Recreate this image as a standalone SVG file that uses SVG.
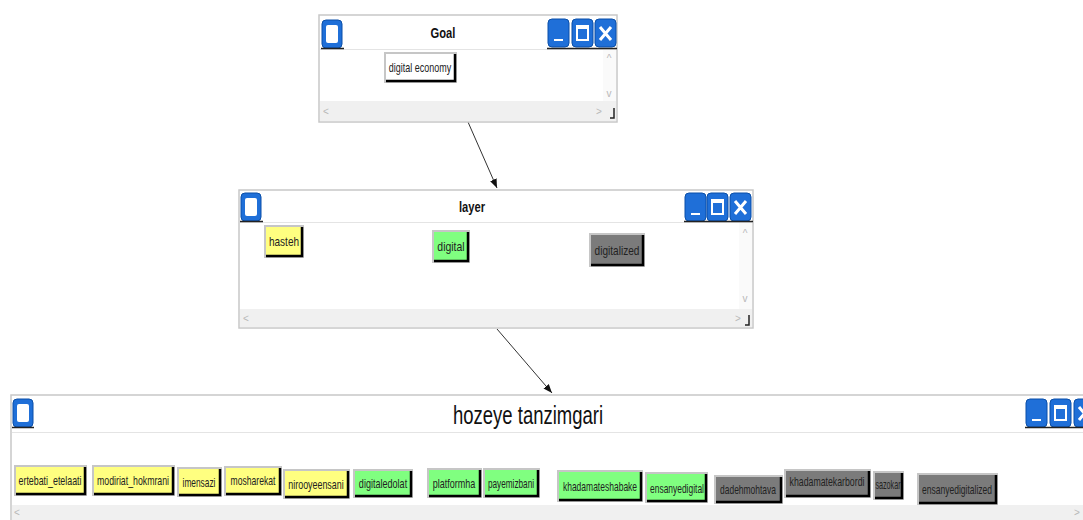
<svg xmlns="http://www.w3.org/2000/svg" width="1083" height="520" viewBox="0 0 1083 520">
<defs>
<style>
.win{fill:#fff;stroke:#c8c8c8;stroke-width:1.5}
.sep{stroke:#e4e4e4;stroke-width:1}
.scroll{fill:#f0f0f0}
.ico{fill:#1f6fd8;stroke:#0b4fa8;stroke-width:1}
.icoin{fill:#fff}
.shadowline{stroke:#222;stroke-width:1.5}
.btnb{fill:#c6c6c6}
.sh{fill:none;stroke:#000;stroke-width:2.5}
.lbl{font-family:"Liberation Sans",Arial,sans-serif;font-size:13px;fill:#222;text-anchor:middle}
.title{font-family:"Liberation Sans",Arial,sans-serif;font-size:14px;font-weight:bold;fill:#111;text-anchor:middle}
.big{font-family:"Liberation Sans",Arial,sans-serif;font-size:25px;fill:#111;text-anchor:middle}
.sc{font-family:"Liberation Sans",Arial,sans-serif;font-size:10px;fill:#b8b8b8;text-anchor:middle}
.con{stroke:#333;stroke-width:1;fill:none}
.y{fill:#ffff80}.g{fill:#80ff80}.gr{fill:#7b7b7b}.w{fill:#fff}
</style>
<marker id="ah" markerWidth="10" markerHeight="10" refX="9" refY="5" orient="auto" markerUnits="userSpaceOnUse">
<path d="M0,1.5 L9,5 L0,8.5 Z" fill="#111"/>
</marker>
<g id="leftico">
<rect x="0" y="0" width="20" height="28" rx="4" class="ico"/>
<rect x="4" y="5" width="12" height="18" rx="2" class="icoin"/>
</g>
<g id="minb">
<rect x="0" y="0" width="21" height="28" rx="4" class="ico"/>
<rect x="6" y="20" width="9" height="2" fill="#fff"/>
</g>
<g id="maxb">
<rect x="0" y="0" width="21" height="28" rx="4" class="ico"/>
<rect x="5" y="7" width="11" height="14" fill="none" stroke="#fff" stroke-width="2"/>
<rect x="5" y="7" width="11" height="3" fill="#fff"/>
</g>
<g id="clsb">
<rect x="0" y="0" width="21" height="28" rx="4" class="ico"/>
<path d="M5,8 L16,21 M16,8 L5,21" stroke="#fff" stroke-width="3"/>
</g>
</defs>

<g id="connectors">
<line x1="468" y1="122" x2="497" y2="188" class="con" marker-end="url(#ah)"/>
<line x1="497" y1="329" x2="552" y2="393" class="con" marker-end="url(#ah)"/>
</g>

<g id="goal">
<rect x="319" y="15" width="298" height="107" class="win"/>
<line x1="320" y1="49.5" x2="616" y2="49.5" class="sep"/>
<rect x="320" y="101" width="296" height="20" class="scroll"/>
<rect x="603" y="50" width="13" height="51" fill="#fafafa"/>
<text x="609" y="62" class="sc">^</text>
<text x="609" y="97" class="sc">v</text>
<text x="326" y="115" class="sc">&lt;</text>
<text x="599" y="115" class="sc">&gt;</text>
<path d="M610,118 L614,118 L614,108" class="shadowline" fill="none" stroke-width="1.2"/>
<use href="#leftico" x="322" y="20"/>
<line x1="321" y1="48.5" x2="344" y2="48.5" class="shadowline"/>
<use href="#minb" x="548" y="19"/>
<use href="#maxb" x="572" y="19"/>
<use href="#clsb" x="595" y="19"/>
<line x1="547" y1="48.5" x2="617" y2="48.5" class="shadowline"/>
<text class="title" transform="translate(443,38) scale(0.8,1)">Goal</text>
<g id="n-digital-economy">
<rect x="384" y="52" width="73" height="31" class="btnb"/>
<rect x="386" y="54" width="68" height="26" class="w"/>
<path d="M386,81 L455,81 L455,54" class="sh"/>
<text class="lbl" transform="translate(420,72) scale(0.7,1)" textLength="89" lengthAdjust="spacingAndGlyphs">digital economy</text>
</g>
</g>

<g id="layer">
<rect x="239" y="190" width="514" height="138" class="win"/>
<line x1="240" y1="222.5" x2="752" y2="222.5" class="sep"/>
<rect x="240" y="309" width="512" height="18" class="scroll"/>
<rect x="739" y="223" width="13" height="86" fill="#fafafa"/>
<text x="745" y="237" class="sc">^</text>
<text x="745" y="302" class="sc">v</text>
<text x="246" y="322" class="sc">&lt;</text>
<text x="738" y="322" class="sc">&gt;</text>
<path d="M745,325 L749,325 L749,315" class="shadowline" fill="none" stroke-width="1.2"/>
<use href="#leftico" x="241" y="193"/>
<line x1="240" y1="221.5" x2="263" y2="221.5" class="shadowline"/>
<use href="#minb" x="685" y="193"/>
<use href="#maxb" x="707" y="193"/>
<use href="#clsb" x="730" y="193"/>
<line x1="684" y1="221.5" x2="753" y2="221.5" class="shadowline"/>
<text class="title" transform="translate(472,212) scale(0.8,1)">layer</text>
<g id="n-hasteh">
<rect x="264" y="225" width="40" height="33" class="btnb"/>
<rect x="266" y="227" width="35" height="28" class="y"/>
<path d="M266,256 L302,256 L302,227" class="sh"/>
<text class="lbl" transform="translate(284,246) scale(0.7,1)" textLength="43" lengthAdjust="spacingAndGlyphs">hasteh</text>
</g>
<g id="n-digital">
<rect x="432" y="230" width="38" height="33" class="btnb"/>
<rect x="434" y="232" width="33" height="28" class="g"/>
<path d="M434,261 L468,261 L468,232" class="sh"/>
<text class="lbl" transform="translate(451,251) scale(0.7,1)" textLength="39" lengthAdjust="spacingAndGlyphs">digital</text>
</g>
<g id="n-digitalized">
<rect x="589" y="233" width="56" height="34" class="btnb"/>
<rect x="591" y="235" width="51" height="29" class="gr"/>
<path d="M591,265 L643,265 L643,235" class="sh"/>
<text class="lbl" transform="translate(617,255) scale(0.7,1)" textLength="64" lengthAdjust="spacingAndGlyphs">digitalized</text>
</g>
</g>

<g id="hozeye">
<rect x="11" y="395" width="1080" height="130" class="win"/>
<line x1="12" y1="432.5" x2="1083" y2="432.5" class="sep"/>
<rect x="12" y="505" width="1071" height="15" class="scroll"/>
<text x="17" y="516" class="sc">&lt;</text>
<text x="1077" y="516" class="sc">&gt;</text>
<use href="#leftico" x="13" y="399"/>
<line x1="12" y1="427.5" x2="34" y2="427.5" class="shadowline"/>
<use href="#minb" x="1026" y="399"/>
<use href="#maxb" x="1050" y="399"/>
<use href="#clsb" x="1074" y="399"/>
<line x1="1025" y1="427.5" x2="1083" y2="427.5" class="shadowline"/>
<text class="big" transform="translate(528,424) scale(0.75,1)" textLength="200" lengthAdjust="spacingAndGlyphs">hozeye tanzimgari</text>

<g id="n-ertebati">
<rect x="14" y="465" width="73" height="31" class="btnb"/>
<rect x="16" y="467" width="68" height="26" class="y"/>
<path d="M16,494 L85,494 L85,467" class="sh"/>
<text class="lbl" transform="translate(50,485) scale(0.7,1)" textLength="90" lengthAdjust="spacingAndGlyphs">ertebati_etelaati</text>
</g>
<g id="n-modiriat">
<rect x="92" y="465" width="83" height="31" class="btnb"/>
<rect x="94" y="467" width="78" height="26" class="y"/>
<path d="M94,494 L173,494 L173,467" class="sh"/>
<text class="lbl" transform="translate(133,485) scale(0.7,1)" textLength="103" lengthAdjust="spacingAndGlyphs">modiriat_hokmrani</text>
</g>
<g id="n-imensazi">
<rect x="177" y="467" width="45" height="30" class="btnb"/>
<rect x="179" y="469" width="40" height="25" class="y"/>
<path d="M179,495 L220,495 L220,469" class="sh"/>
<text class="lbl" transform="translate(199,487) scale(0.7,1)" textLength="47" lengthAdjust="spacingAndGlyphs">imensazi</text>
</g>
<g id="n-mosharekat">
<rect x="224" y="466" width="58" height="30" class="btnb"/>
<rect x="226" y="468" width="53" height="25" class="y"/>
<path d="M226,494 L280,494 L280,468" class="sh"/>
<text class="lbl" transform="translate(253,485) scale(0.7,1)" textLength="64" lengthAdjust="spacingAndGlyphs">mosharekat</text>
</g>
<g id="n-nirooyeensani">
<rect x="283" y="469" width="67" height="30" class="btnb"/>
<rect x="285" y="471" width="62" height="25" class="y"/>
<path d="M285,497 L348,497 L348,471" class="sh"/>
<text class="lbl" transform="translate(316,489) scale(0.7,1)" textLength="79" lengthAdjust="spacingAndGlyphs">nirooyeensani</text>
</g>
<g id="n-digitaledolat">
<rect x="353" y="469" width="60" height="29" class="btnb"/>
<rect x="355" y="471" width="55" height="24" class="g"/>
<path d="M355,496 L411,496 L411,471" class="sh"/>
<text class="lbl" transform="translate(383,488) scale(0.7,1)" textLength="69" lengthAdjust="spacingAndGlyphs">digitaledolat</text>
</g>
<g id="n-platformha">
<rect x="427" y="468" width="55" height="30" class="btnb"/>
<rect x="429" y="470" width="50" height="25" class="g"/>
<path d="M429,496 L480,496 L480,470" class="sh"/>
<text class="lbl" transform="translate(454,488) scale(0.7,1)" textLength="61" lengthAdjust="spacingAndGlyphs">platformha</text>
</g>
<g id="n-payemizbani">
<rect x="483" y="468" width="57" height="30" class="btnb"/>
<rect x="485" y="470" width="52" height="25" class="g"/>
<path d="M485,496 L538,496 L538,470" class="sh"/>
<text class="lbl" transform="translate(511,488) scale(0.7,1)" textLength="66" lengthAdjust="spacingAndGlyphs">payemizbani</text>
</g>
<g id="n-khadamateshabake">
<rect x="557" y="470" width="86" height="32" class="btnb"/>
<rect x="559" y="472" width="81" height="27" class="g"/>
<path d="M559,500 L641,500 L641,472" class="sh"/>
<text class="lbl" transform="translate(600,491) scale(0.7,1)" textLength="106" lengthAdjust="spacingAndGlyphs">khadamateshabake</text>
</g>
<g id="n-ensanyedigital">
<rect x="645" y="472" width="63" height="31" class="btnb"/>
<rect x="647" y="474" width="58" height="26" class="g"/>
<path d="M647,501 L706,501 L706,474" class="sh"/>
<text class="lbl" transform="translate(677,493) scale(0.7,1)" textLength="77" lengthAdjust="spacingAndGlyphs">ensanyedigital</text>
</g>
<g id="n-dadehmohtava">
<rect x="714" y="475" width="69" height="29" class="btnb"/>
<rect x="716" y="477" width="64" height="24" class="gr"/>
<path d="M716,502 L781,502 L781,477" class="sh"/>
<text class="lbl" transform="translate(748,494) scale(0.7,1)" textLength="80" lengthAdjust="spacingAndGlyphs">dadehmohtava</text>
</g>
<g id="n-khadamatekarbordi">
<rect x="784" y="469" width="87" height="29" class="btnb"/>
<rect x="786" y="471" width="82" height="24" class="gr"/>
<path d="M786,496 L869,496 L869,471" class="sh"/>
<text class="lbl" transform="translate(827,486) scale(0.7,1)" textLength="107" lengthAdjust="spacingAndGlyphs">khadamatekarbordi</text>
</g>
<g id="n-sazokar">
<rect x="873" y="471" width="31" height="29" class="btnb"/>
<rect x="875" y="473" width="26" height="24" class="gr"/>
<path d="M875,498 L902,498 L902,473" class="sh"/>
<text class="lbl" transform="translate(888,489) scale(0.7,1)" textLength="36" lengthAdjust="spacingAndGlyphs">sazokar</text>
</g>
<g id="n-ensanyedigitalized">
<rect x="917" y="473" width="81" height="32" class="btnb"/>
<rect x="919" y="475" width="76" height="27" class="gr"/>
<path d="M919,503 L996,503 L996,475" class="sh"/>
<text class="lbl" transform="translate(957,494) scale(0.7,1)" textLength="100" lengthAdjust="spacingAndGlyphs">ensanyedigitalized</text>
</g>
</g>
</svg>
